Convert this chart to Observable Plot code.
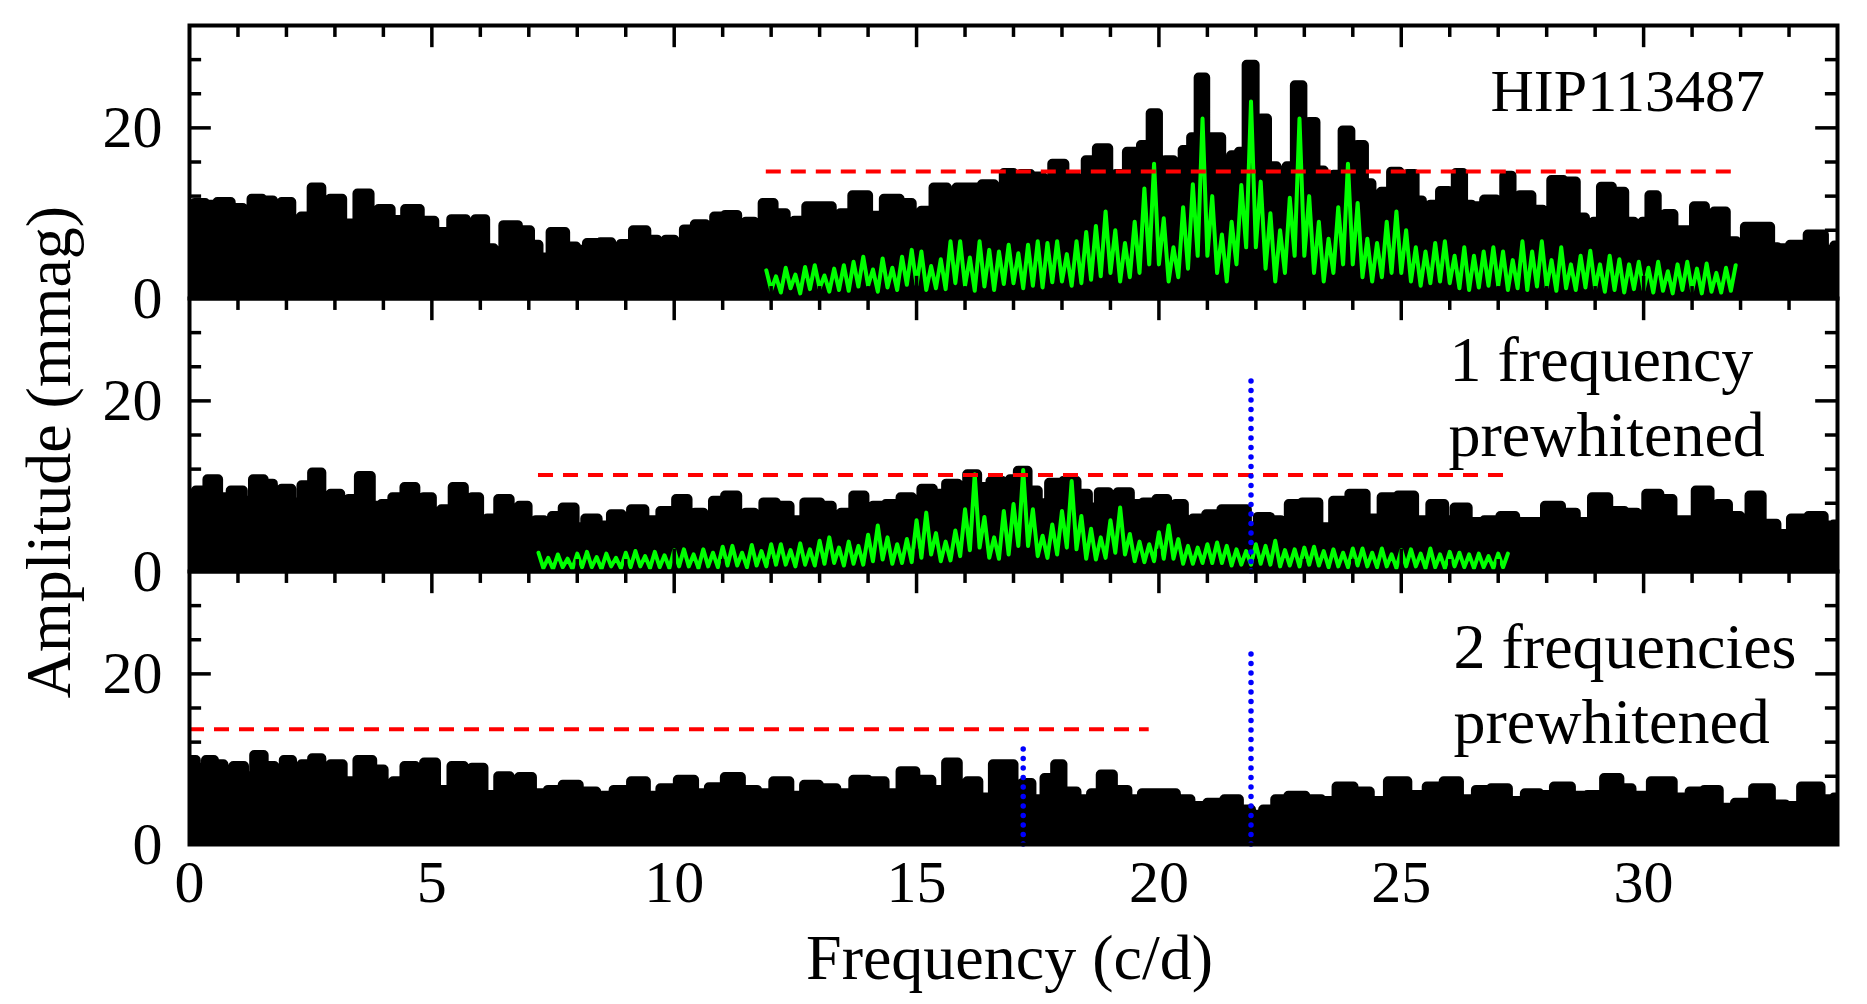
<!DOCTYPE html>
<html>
<head>
<meta charset="utf-8">
<script src="https://cdn.jsdelivr.net/npm/d3@7"></script>
<script src="https://cdn.jsdelivr.net/npm/@observablehq/plot@0.6"></script>
<style>
  html, body { margin: 0; padding: 0; background: #fff; }
  #chart { width: 1867px; height: 1004px; }
</style>
</head>
<body>
<div id="chart"></div>
<script>
// ---------- DATA ----------
const panels = ["top", "mid", "bot"];

// Amplitude spectrum envelope (frequency c/d, amplitude mmag) — original data
const topPeaks = [[0,10.2],[0.2,11.2],[0.45,11.0],[0.7,11.3],[1.0,10.6],[1.2,9.4],[1.36,11.7],[1.64,11.5],[1.8,9.8],[2.0,11.3],[2.2,9.0],[2.4,9.6],[2.64,13.0],[2.8,9.0],[3.0,11.7],[3.3,8.8],[3.63,12.3],[3.8,9.0],[4.0,10.5],[4.3,9.2],[4.6,10.5],[4.9,9.1],[5.2,7.8],[5.6,9.3],[5.8,8.6],[6.0,9.3],[6.2,5.9],[6.35,5.5],[6.6,8.6],[6.95,8.0],[7.1,6.3],[7.3,4.8],[7.6,7.8],[7.9,6.1],[8.05,5.7],[8.35,6.5],[8.6,6.6],[8.8,5.7],[9.0,6.4],[9.3,8.0],[9.55,6.9],[9.75,5.5],[9.9,6.9],[10.1,6.0],[10.3,8.1],[10.55,8.7],[10.75,7.5],[10.9,9.6],[11.2,9.8],[11.4,8.0],[11.55,9.0],[11.75,8.5],[11.9,11.2],[12.2,10.0],[12.4,8.5],[12.55,9.1],[12.9,10.8],[13.15,10.8],[13.35,9.0],[13.5,10.0],[13.85,12.1],[14.15,9.7],[14.5,11.7],[14.8,11.2],[15.0,9.5],[15.2,10.3],[15.5,13.0],[15.75,11.9],[15.9,13.0],[16.2,13.0],[16.5,13.4],[16.7,12.0],[16.9,14.7],[17.1,14.3],[17.2,14.6],[17.5,14.3],[17.7,12.5],[17.9,15.8],[18.2,14.3],[18.4,13.0],[18.58,16.2],[18.86,17.6],[19.05,13.5],[19.17,14.6],[19.51,17.2],[19.75,18.0],[19.91,21.7],[20.05,16.0],[20.2,16.2],[20.4,14.0],[20.58,17.4],[20.75,18.9],[20.89,25.9],[21.02,18.9],[21.17,18.9],[21.4,15.0],[21.58,16.8],[21.72,17.2],[21.9,27.4],[22.05,17.5],[22.16,21.1],[22.3,15.5],[22.55,15.0],[22.72,15.5],[22.89,25.0],[23.03,18.0],[23.16,20.7],[23.3,15.0],[23.5,13.3],[23.7,14.5],[23.88,19.7],[24.02,16.0],[24.16,18.0],[24.3,13.5],[24.47,11.3],[24.7,12.5],[24.88,14.85],[25.05,13.0],[25.2,14.6],[25.35,11.5],[25.5,10.4],[25.7,11.0],[25.9,12.6],[26.05,11.0],[26.2,14.7],[26.35,11.0],[26.55,10.8],[26.87,11.6],[27.05,10.0],[27.2,14.4],[27.35,11.0],[27.53,12.1],[27.84,10.4],[28.0,9.0],[28.19,13.9],[28.5,13.7],[28.7,9.5],[28.88,8.2],[29.05,9.0],[29.19,13.1],[29.5,12.5],[29.7,9.0],[29.9,8.4],[30.05,9.0],[30.19,12.1],[30.35,9.5],[30.53,9.9],[30.7,8.0],[30.9,8.0],[31.18,10.8],[31.35,8.5],[31.56,10.2],[31.83,6.7],[32.0,6.0],[32.18,8.4],[32.52,8.4],[32.7,6.0],[32.84,5.9],[33.2,6.3],[33.57,7.5],[33.87,5.7],[34.0,6.2]];

// after prewhitening 1 frequency
const midPeaks = [[0,8.5],[0.26,9.5],[0.48,10.8],[0.7,8.7],[1.0,9.5],[1.2,8.3],[1.42,10.8],[1.64,10.3],[1.8,7.7],[2.0,9.7],[2.2,8.1],[2.42,10.1],[2.64,11.6],[2.8,7.5],[3.02,9.1],[3.2,7.5],[3.36,8.5],[3.63,11.2],[3.85,7.7],[4.07,7.9],[4.3,8.7],[4.57,9.9],[4.75,7.5],[4.9,8.7],[5.1,6.5],[5.29,7.3],[5.57,9.9],[5.75,7.0],[5.9,8.7],[6.05,5.5],[6.23,6.2],[6.51,8.5],[6.7,6.5],[6.9,7.7],[7.05,5.5],[7.23,6.0],[7.4,5.0],[7.56,6.5],[7.84,7.5],[8.05,5.2],[8.28,6.2],[8.56,5.4],[8.83,6.7],[9.0,5.5],[9.22,7.3],[9.55,6.0],[9.88,7.1],[10.2,8.5],[10.35,6.0],[10.5,6.9],[10.7,5.5],[10.9,8.3],[11.2,8.9],[11.4,6.0],[11.55,6.9],[11.75,5.8],[11.93,8.1],[12.26,7.7],[12.5,6.0],[12.87,8.1],[13.15,7.7],[13.35,6.2],[13.54,6.9],[13.85,8.9],[14.0,6.5],[14.2,7.7],[14.53,7.9],[14.81,8.7],[15.0,7.0],[15.2,9.7],[15.47,9.1],[15.75,10.3],[15.95,8.5],[16.14,11.4],[16.36,9.9],[16.69,10.6],[16.85,9.0],[17.0,10.8],[17.18,11.8],[17.4,9.5],[17.6,8.0],[17.87,10.4],[18.18,10.6],[18.42,9.1],[18.65,7.5],[18.87,9.3],[19.05,7.5],[19.26,9.3],[19.54,7.9],[19.81,8.1],[20.09,8.5],[20.25,6.5],[20.43,7.9],[20.6,5.5],[20.8,6.2],[21.15,6.7],[21.43,7.3],[21.7,7.3],[21.93,5.2],[22.15,6.4],[22.43,6.0],[22.6,5.0],[22.76,7.9],[23.15,8.1],[23.43,5.2],[23.76,8.3],[24.1,9.1],[24.43,6.2],[24.76,8.7],[25.1,8.9],[25.43,6.0],[25.77,7.9],[26.0,6.0],[26.2,7.5],[26.54,5.8],[26.88,6.0],[27.21,6.5],[27.49,5.8],[27.77,5.8],[28.16,7.7],[28.43,6.9],[28.77,5.8],[29.1,8.7],[29.44,7.1],[29.77,6.9],[29.95,5.5],[30.16,9.1],[30.49,8.5],[30.7,6.0],[30.88,6.0],[31.27,9.5],[31.45,6.5],[31.6,7.9],[31.88,6.5],[32.1,6.0],[32.27,8.9],[32.6,5.6],[32.88,4.4],[33.2,6.2],[33.6,6.5],[33.83,5.4],[34.0,5.5]];

// after prewhitening 2 frequencies
const botPeaks = [[0,9.9],[0.26,9.0],[0.42,9.9],[0.59,9.4],[0.81,8.6],[1.0,9.2],[1.25,8.0],[1.42,10.5],[1.64,9.2],[1.86,8.4],[2.03,9.9],[2.2,6.2],[2.42,9.4],[2.64,10.1],[2.8,7.6],[3.02,9.4],[3.3,7.4],[3.63,9.9],[3.91,8.8],[4.1,6.5],[4.3,7.4],[4.57,9.2],[4.75,7.0],[4.93,9.6],[5.24,6.4],[5.57,9.2],[5.75,7.0],[5.9,9.0],[6.23,5.8],[6.51,8.0],[6.7,6.5],[6.9,7.9],[7.23,6.0],[7.56,6.4],[7.84,7.0],[8.22,6.2],[8.56,5.7],[8.94,6.4],[9.28,7.4],[9.55,5.7],[9.88,6.6],[10.27,7.6],[10.55,6.0],[10.88,6.7],[11.21,7.9],[11.54,6.4],[11.88,6.0],[12.21,7.4],[12.54,5.7],[12.82,7.0],[13.15,6.6],[13.54,6.0],[13.85,7.6],[14.15,7.4],[14.53,6.0],[14.81,8.6],[15.14,7.6],[15.47,6.4],[15.75,9.6],[15.95,6.5],[16.14,7.4],[16.41,5.5],[16.74,9.4],[16.9,9.4],[17.1,6.0],[17.26,7.2],[17.48,5.3],[17.8,7.8],[17.92,9.4],[18.1,6.2],[18.5,5.3],[18.7,6.0],[18.9,8.2],[19.2,6.4],[19.5,5.3],[19.8,6.0],[20.2,6.0],[20.5,5.3],[20.8,4.5],[21.2,4.9],[21.5,5.3],[21.8,4.1],[22.0,3.5],[22.3,4.1],[22.5,5.3],[22.84,5.7],[23.2,5.3],[23.5,5.1],[23.83,6.8],[24.2,6.2],[24.5,5.1],[24.95,7.4],[25.3,5.8],[25.75,6.8],[26.0,7.4],[26.38,5.3],[26.7,6.4],[27.0,6.6],[27.4,5.1],[27.7,6.0],[28.0,5.8],[28.3,6.8],[28.7,5.7],[28.97,5.8],[29.4,7.8],[29.6,6.6],[29.9,5.7],[30.4,7.4],[30.8,5.5],[31.1,6.2],[31.4,6.4],[31.7,4.3],[32.07,4.9],[32.45,6.6],[32.8,4.7],[33.05,4.5],[33.45,6.8],[33.85,5.3],[34.0,5.5]];

// Spectral window (green), sampled every 0.1 c/d from its start frequency
const topWindowStart = 11.9;
const topWindowAmp = [
3.3,1.0,2.6,0.7,3.6,1.2,2.8,0.6,3.7,1.1,
3.9,1.2,2.7,0.8,3.5,1.0,3.9,0.9,4.3,1.4,
4.9,1.5,3.4,0.8,4.7,1.3,3.6,1.0,4.9,1.6,
5.7,1.6,5.5,1.0,3.8,1.2,4.6,1.1,6.7,1.8,
6.7,1.5,4.8,0.9,6.7,1.4,5.7,1.0,5.5,1.7,
6.3,1.8,5.3,1.2,6.3,1.5,6.7,1.3,6.5,1.9,
6.7,2.0,5.2,1.5,6.7,1.8,7.8,2.2,8.5,2.6,
10.2,3.0,8.0,2.0,6.5,2.5,9.0,3.0,12.9,4.0,
15.8,4.0,9.4,2.0,6.0,2.5,10.7,3.5,13.4,5.0,
21.1,5.0,12.0,3.0,7.5,2.0,9.0,4.0,13.3,6.0,
23.1,6.0,13.7,3.5,10.0,2.0,8.0,3.0,11.8,5.0,
21.1,5.0,12.0,3.0,9.0,2.0,7.0,3.0,10.7,4.0,
15.8,4.0,11.2,2.5,7.0,2.0,6.5,2.5,9.0,3.0,
10.2,3.0,8.0,2.0,6.0,1.5,5.5,1.8,6.5,2.0,
6.7,1.8,5.0,1.2,6.0,1.0,5.0,1.3,5.5,1.5,
6.0,1.5,5.5,1.0,4.5,1.2,6.7,1.0,5.5,1.4,
6.7,1.3,4.5,0.9,6.0,1.2,4.0,1.0,5.0,1.3,
5.6,1.2,4.0,0.8,5.0,1.0,4.6,0.7,4.0,1.1,
4.3,1.0,3.6,0.7,4.3,0.9,3.2,0.6,4.0,1.0,
4.3,0.9,3.5,0.6,4.1,0.8,3.0,0.7,3.6,0.9,
3.9];

const midWindowStart = 7.2;
const midWindowAmp = [
2.2,0.4,1.6,0.3,2.0,0.5,1.5,0.3,2.1,0.5,
2.3,0.5,1.7,0.3,2.1,0.6,1.6,0.4,2.2,0.5,
2.4,0.6,1.8,0.4,2.3,0.5,1.9,0.4,2.5,0.6,
2.6,0.6,2.0,0.4,2.6,0.6,2.2,0.5,2.9,0.7,
3.0,0.7,2.2,0.5,3.1,0.7,2.4,0.6,3.2,0.8,
3.2,0.8,2.5,0.6,3.3,0.8,2.6,0.7,3.6,0.9,
4.0,1.0,2.8,0.7,3.5,0.9,3.0,0.8,4.3,1.2,
5.4,1.4,4.0,0.9,3.2,1.0,3.8,1.1,6.0,1.6,
6.9,2.0,4.5,1.2,3.5,1.3,4.8,1.8,7.3,2.5,
11.4,2.8,6.4,1.6,4.0,1.5,7.1,2.0,7.9,3.0,
11.9,3.0,7.3,1.8,4.2,1.6,5.5,2.0,7.1,2.8,
10.6,2.6,6.5,1.5,5.0,1.4,4.0,1.6,6.0,2.2,
7.5,2.0,4.4,1.2,3.5,1.1,3.2,1.2,4.6,1.5,
5.4,1.5,3.8,0.9,3.0,0.9,2.8,1.0,3.2,1.0,
3.4,1.0,3.0,0.7,2.6,0.8,2.4,0.8,3.2,0.9,
3.0,0.8,3.6,0.6,2.5,0.7,2.6,0.6,2.8,0.8,
2.9,0.7,2.4,0.5,2.6,0.6,2.2,0.5,2.7,0.7,
2.7,0.6,2.2,0.5,2.7,0.6,2.0,0.4,2.5,0.6,
2.6,0.6,2.1,0.4,2.7,0.5,2.0,0.4,2.3,0.6,
2.2,0.5,2.0,0.4,2.1,0.5,1.8,0.4,2.1,0.5,
2.1];

// Significance levels (red dashed): panel, amplitude, frequency range
const thresholdPanels = ["top", "mid", "bot"];
const thresholdAmp = [14.9, 11.3, 13.5];
const thresholdFrom = [11.9, 7.2, 0];
const thresholdTo = [31.9, 27.2, 19.8];

// Prewhitened frequencies (blue dotted): panel, frequency, amplitude
const markerPanels = ["mid", "bot", "bot"];
const markerFreq = [21.9, 21.9, 17.2];
const markerAmp = [22.3, 22.3, 11.3];

// Axis ticks
const xTickLabels = [0, 5, 10, 15, 20, 25, 30];
const xMajorTicks = [5, 10, 15, 20, 25, 30];
const xMinorTicks = [1,2,3,4,6,7,8,9,11,12,13,14,16,17,18,19,21,22,23,24,26,27,28,29,31,32,33];
const yTickLabels = [0, 20];
const yMajorTicks = [20];
const yMinorTicks = [4, 8, 12, 16, 24, 28];

// ---------- BUILD ----------
const rows = (pairs, panel) => pairs.map(([f, a]) => ({f, a, panel}));
const spectrum = [...rows(topPeaks, "top"), ...rows(midPeaks, "mid"), ...rows(botPeaks, "bot")];
const win = (start, amps, panel) => amps.map((a, i) => ({f: +(start + 0.1 * i).toFixed(2), a, panel}));
const windowRows = [...win(topWindowStart, topWindowAmp, "top"), ...win(midWindowStart, midWindowAmp, "mid")];
const thresholds = thresholdPanels.map((p, i) => ({panel: p, a: thresholdAmp[i], from: thresholdFrom[i], to: thresholdTo[i]}));
const markers = markerPanels.map((p, i) => ({panel: p, f: markerFreq[i], a: markerAmp[i]}));

const serif = "'Liberation Serif', 'Times New Roman', serif";
const tickW = 3.5;

const chart = Plot.plot({
  width: 1867,
  height: 1004,
  marginLeft: 189,
  marginRight: 30,
  marginTop: 24,
  marginBottom: 159,
  style: {fontFamily: serif, fontSize: "60px", color: "black", background: "white"},
  x: {domain: [0, 34], ticks: xTickLabels, tickSize: 0, tickPadding: 15, label: null},
  y: {domain: [0, 32], ticks: yTickLabels, tickSize: 0, tickPadding: 27, label: null},
  fy: {domain: panels, padding: 0, axis: null, label: null},
  marks: [
    // black amplitude spectra
    Plot.areaY(spectrum, {x: "f", y: "a", fy: "panel", z: "panel", curve: "step", fill: "black", clip: true}),
    Plot.line(spectrum, {x: "f", y: "a", fy: "panel", z: "panel", curve: "step", stroke: "black",
      strokeWidth: 10, strokeLinejoin: "round", strokeLinecap: "round", clip: true}),
    // green spectral window
    Plot.line(windowRows, {x: "f", y: "a", fy: "panel", z: "panel", stroke: "#00ff00",
      strokeWidth: 4, strokeLinejoin: "round", clip: true}),
    // red significance levels
    Plot.ruleY(thresholds, {y: "a", x1: "from", x2: "to", fy: "panel", stroke: "#ff0000",
      strokeWidth: 4, strokeDasharray: "15,10"}),
    // blue prewhitened frequencies
    Plot.ruleX(markers, {x: "f", y1: 0, y2: "a", fy: "panel", stroke: "#0000ff",
      strokeWidth: 5.5, strokeDasharray: "0,9.5", strokeLinecap: "round"}),
    // frame & inward ticks (repeated in each panel)
    Plot.frame({stroke: "black", strokeWidth: 4}),
    Plot.ruleX(xMinorTicks, {x: d => d, y1: 0, y2: 1.4, stroke: "black", strokeWidth: tickW}),
    Plot.ruleX(xMajorTicks, {x: d => d, y1: 0, y2: 2.6, stroke: "black", strokeWidth: tickW}),
    Plot.ruleX(xMinorTicks, {x: d => d, y1: 32, y2: 30.6, stroke: "black", strokeWidth: tickW}),
    Plot.ruleX(xMajorTicks, {x: d => d, y1: 32, y2: 29.4, stroke: "black", strokeWidth: tickW}),
    Plot.ruleY(yMinorTicks, {y: d => d, x1: 0, x2: 0.25, stroke: "black", strokeWidth: tickW}),
    Plot.ruleY(yMajorTicks, {y: d => d, x1: 0, x2: 0.45, stroke: "black", strokeWidth: tickW}),
    Plot.ruleY(yMinorTicks, {y: d => d, x1: 34, x2: 33.75, stroke: "black", strokeWidth: tickW}),
    Plot.ruleY(yMajorTicks, {y: d => d, x1: 34, x2: 33.55, stroke: "black", strokeWidth: tickW}),
    // panel annotations
    Plot.text(["HIP113487"], {text: d => d, fy: ["top"], frameAnchor: "top-left", textAnchor: "start",
      lineAnchor: "bottom", dx: 1301, dy: 85, fontSize: 60, fill: "black"}),
    Plot.text(["1 frequency"], {text: d => d, fy: ["mid"], frameAnchor: "top-left", textAnchor: "start",
      lineAnchor: "bottom", dx: 1260, dy: 82, fontSize: 64, fill: "black"}),
    Plot.text(["prewhitened"], {text: d => d, fy: ["mid"], frameAnchor: "top-left", textAnchor: "start",
      lineAnchor: "bottom", dx: 1259, dy: 157, fontSize: 64, fill: "black"}),
    Plot.text(["2 frequencies"], {text: d => d, fy: ["bot"], frameAnchor: "top-left", textAnchor: "start",
      lineAnchor: "bottom", dx: 1264, dy: 96, fontSize: 64, fill: "black"}),
    Plot.text(["prewhitened"], {text: d => d, fy: ["bot"], frameAnchor: "top-left", textAnchor: "start",
      lineAnchor: "bottom", dx: 1264, dy: 171, fontSize: 64, fill: "black"}),
    // axis titles
    Plot.text(["Amplitude (mmag)"], {text: d => d, fy: ["mid"], frameAnchor: "left", rotate: -90,
      textAnchor: "middle", lineAnchor: "bottom", dx: -120, dy: 17, fontSize: 64, fill: "black"}),
    Plot.text(["Frequency (c/d)"], {text: d => d, fy: ["bot"], frameAnchor: "bottom", textAnchor: "middle",
      lineAnchor: "bottom", dx: -4, dy: 134, fontSize: 64, fill: "black"})
  ]
});
document.getElementById("chart").appendChild(chart);
</script>
</body>
</html>
